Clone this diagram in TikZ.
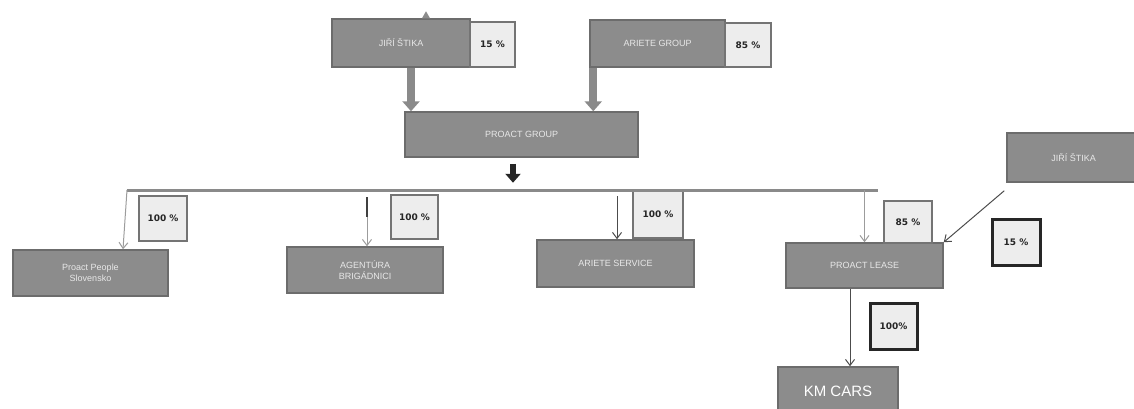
\documentclass[tikz,border=0pt]{standalone}
\usepackage{fontspec}
\setmainfont{Liberation Sans}
\newfontfamily\pctfont{DejaVu Sans}
\usetikzlibrary{arrows.meta}
\definecolor{boxfill}{HTML}{8C8C8C}
\definecolor{boxline}{HTML}{6C6C6C}
\definecolor{pctfill}{HTML}{EDEDED}
\definecolor{pctline}{HTML}{747474}
\definecolor{busgray}{HTML}{8A8A8A}
\definecolor{thingray}{HTML}{9C9C9C}
\definecolor{labelwhite}{HTML}{E8E8E8}
\tikzset{
  graybox/.style={draw=boxline, fill=boxfill, line width=1.5pt, inner sep=0pt,
    text=labelwhite, font=\fontsize{9}{10.5}\selectfont, align=center},
  pctbox/.style={draw=pctline, fill=pctfill, line width=2.4pt, inner sep=0pt,
    text=black!85, font=\pctfont\bfseries\fontsize{9}{10}\selectfont},
  pctthick/.style={pctbox, draw=black!85, line width=3pt},
  bigarrow/.style={draw=busgray, line width=8pt, -{Triangle[width=17pt,length=10pt]}},
  blackarrow/.style={draw=black!85, line width=6.5pt, -{Triangle[width=15pt,length=9pt]}},
  busline/.style={draw=busgray, line width=3pt},
  thinarrow/.style={draw=thingray, line width=1pt, -{Straight Barb[length=6pt,width=9pt]}},
  darkarrow/.style={draw=black!70, line width=1pt, -{Straight Barb[length=6pt,width=9pt]}},
}
\begin{document}
\begin{tikzpicture}[x=1pt,y=-1pt]
\useasboundingbox (0,0) rectangle (1134,408);
% gray boxes
\node[graybox, minimum width=138pt, minimum height=48pt] (jiri1) at (401,43) {JIŘÍ ŠTIKA};
\node[graybox, minimum width=135pt, minimum height=47pt] (ariete) at (657.5,43.5) {ARIETE GROUP};
\node[graybox, minimum width=233pt, minimum height=45pt] (pgroup) at (521.5,134.5) {PROACT GROUP};
\node[graybox, minimum width=155pt, minimum height=46pt] (pps) at (90.5,273) {Proact People\\Slovensko};
\node[graybox, minimum width=156pt, minimum height=46pt] (agent) at (365,270) {AGENTÚRA\\BRIGÁDNICI};
\node[graybox, minimum width=157pt, minimum height=47pt] (aserv) at (615.5,263.5) {ARIETE SERVICE};
\node[graybox, minimum width=157pt, minimum height=45pt] (plsease) at (864.5,265.5) {PROACT LEASE};
\node[graybox, minimum width=133pt, minimum height=49pt] (jiri2) at (1073.5,157.5) {JIŘÍ ŠTIKA};
\node[graybox, minimum width=120pt, minimum height=48pt, font=\fontsize{15}{17}\selectfont, text=white] (kmcars) at (838,391) {KM CARS};
% percent boxes
\node[pctbox, minimum width=45pt, minimum height=45pt] (p15a) at (492.5,44.5) {15 \%};
\node[pctbox, minimum width=46pt, minimum height=44pt] (p85a) at (748,45) {85 \%};
\node[pctbox, minimum width=48pt, minimum height=45pt] (p100a) at (163,218.5) {100 \%};
\node[pctbox, minimum width=47pt, minimum height=44pt] (p100b) at (414.5,217) {100 \%};
\node[pctbox, minimum width=50pt, minimum height=48pt] (p100c) at (658,214) {100 \%};
\node[pctbox, minimum width=48pt, minimum height=42pt] (p85b) at (908,222) {85 \%};
\node[pctthick, minimum width=48pt, minimum height=46pt] (p15b) at (1016,242) {15 \%};
\node[pctthick, minimum width=47pt, minimum height=46pt] (p100d) at (893.5,326) {100\%};
% small tip above the first box
\fill[boxfill] ([xshift=21pt]jiri1.north) -- ([xshift=29pt]jiri1.north) -- ([xshift=25pt,yshift=7pt]jiri1.north) -- cycle;
% owners to group
\draw[bigarrow] ([xshift=10pt]jiri1.south) -- ([xshift=10pt]jiri1.south |- pgroup.north);
\draw[bigarrow] ([xshift=4pt]ariete.south west) -- ([xshift=4pt]ariete.south west |- pgroup.north);
% group to bus
\coordinate (busL) at (127,190);
\coordinate (busR) at (878,190);
\draw[blackarrow] ([xshift=-8.5pt,yshift=-6pt]pgroup.south) -- ++(0,19);
\draw[busline] (busL) -- (busR);
% bus to subsidiaries
\draw[thinarrow] (busL) -- ([xshift=32.5pt]pps.north);
\draw[thinarrow] ([xshift=2pt,yshift=49pt]agent.north) -- ([xshift=2pt]agent.north);
\draw[black!75, line width=2pt] ([xshift=2pt,yshift=49pt]agent.north) -- ++(0,20);
\draw[darkarrow] ([xshift=1.5pt,yshift=43pt]aserv.north) -- ([xshift=1.5pt]aserv.north);
\draw[thinarrow] (plsease.north |- busR) -- (plsease.north);
% second owner of PROACT LEASE
\draw[darkarrow] ([xshift=-2pt,yshift=-8pt]jiri2.south west) -- (plsease.north east);
% lease to KM CARS
\draw[darkarrow] ([xshift=-14.5pt]plsease.south) -- ([xshift=-14.5pt]plsease.south |- kmcars.north);
\end{tikzpicture}
\end{document}
